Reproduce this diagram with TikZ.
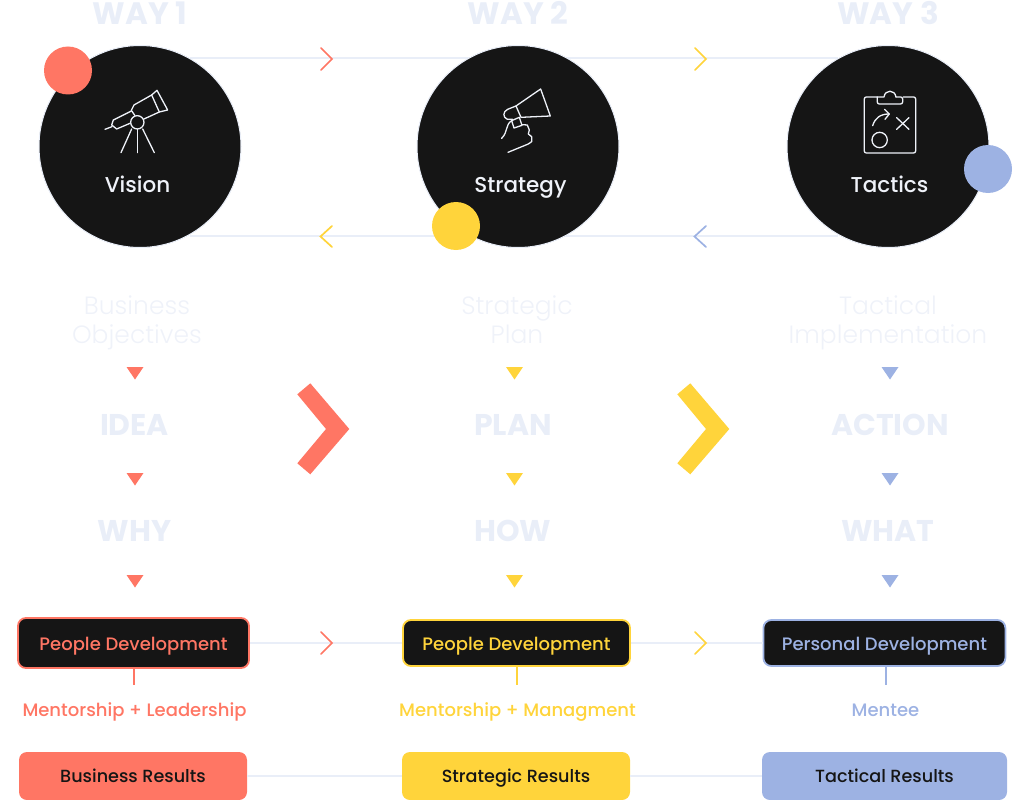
\documentclass[tikz,border=0pt]{standalone}
\usepackage{fontspec}
\setmainfont{Poppins}
\newfontfamily\med{Poppins Medium}
\newfontfamily\lite{Poppins Light}
\definecolor{coral}{HTML}{FF7664}
\definecolor{sun}{HTML}{FFD43B}
\definecolor{sky}{HTML}{9DB2E3}
\definecolor{pale}{HTML}{E9EEF8}
\definecolor{paler}{HTML}{EFF2F9}
\definecolor{ink}{HTML}{151515}
\newcommand{\fs}[1]{\fontsize{#1}{#1}\selectfont}
\newcommand{\goalline}{\rule[-8pt]{0pt}{28pt}}
\tikzset{
 x=1pt,y=-1pt,
 link/.style={draw=pale,line width=1.8pt},
 chev/.style={line width=1.7pt,line cap=round,line join=miter},
 disc/.style={circle,fill=ink,draw=pale,line width=1pt,minimum size=202pt,inner sep=0pt},
 dot/.style={circle,minimum size=48pt,inner sep=0pt},
 discname/.style={anchor=base,text=paler,inner sep=0pt,font=\med\fs{21.5}},
 way/.style={anchor=base,text=pale,inner sep=0pt,font=\fs{31}\bfseries},
 word/.style={anchor=base,text=pale,inner sep=0pt,font=\fs{30}\bfseries},
 goal/.style={text=paler,inner sep=0pt,font=\lite\fs{25},align=center,text width=260pt},
 devbox/.style={fill=ink,line width=1.8pt,rounded corners=8pt,inner sep=0pt,text height=18pt,text depth=4pt,font=\med\fs{18}},
 resbox/.style={rounded corners=8pt,inner sep=0pt,text=ink,text height=18pt,text depth=4.6pt,font=\med\fs{17.6}},
 sub/.style={anchor=base,inner sep=0pt,font=\med\fs{18}},
 icon/.style={draw=paler,line width=1.3pt,line cap=round,line join=round},
}
\begin{document}
\begin{tikzpicture}
\useasboundingbox (0,0) rectangle (1018,800);
\clip (0,0) rectangle (1018,800);
\coordinate (t1) at (190,58); \coordinate (t2) at (838,58);
\coordinate (b1) at (190,236); \coordinate (b2) at (838,236);
\draw[link] (t1) -- (t2);
\draw[link] (b1) -- (b2);
\node[disc] (vis) at (140,146.5) {};
\node[disc] (str) at (518,146.5) {};
\node[disc] (tac) at (888,146.5) {};
\node[dot,fill=coral] (d1) at (68,70.5) {};
\node[dot,fill=sun] (d2) at (456,226) {};
\node[dot,fill=sky] (d3) at (988,169) {};
% small chevrons top
\draw[chev,coral] (321,48) -- (332,59) -- (321,70);
\draw[chev,sun] (695,48) -- (706,59) -- (695,70);
\draw[chev,sun] (332,226) -- (320.5,236.5) -- (332,247);
\draw[chev,sky] (706,226) -- (694.5,236.5) -- (706,247);
% titles
\node[way] (w1) at (140,25) {WAY 1};
\node[way] (w2) at (518,25) {WAY 2};
\node[way] (w3) at (888,25) {WAY 3};
\node[discname] (n1) at (137.5,192) {Vision};
\node[discname] (n2) at (520.5,192) {Strategy};
\node[discname] (n3) at (889.5,192) {Tactics};
% telescope
\begin{scope}[shift={(30,0)},x=0.3333pt,y=-0.3333pt]
\draw[icon] (365,285) -- (381,271) -- (413,330) -- (388,336) -- cycle;
\draw[icon] (365,285) -- (312,315) -- (304,331) -- (315,347);
\draw[icon] (388,336) -- (342,357);
\draw[icon] (304,333) -- (250,360) -- (245,375) -- (260,387) -- (300,370);
\draw[icon] (225,388) -- (246,380);
\draw[icon] (322,367) circle[radius=20];
\draw[icon] (305,387) -- (273,458);
\draw[icon] (322,388) -- (322,458);
\draw[icon] (338,387) -- (373,458);
\end{scope}
% megaphone
\begin{scope}[shift={(410,30)},x=0.3333pt,y=-0.3333pt]
\draw[icon] (318,228) -- (392,177) -- (421,258) -- (333,262) -- cycle;
\draw[icon] (318,228) -- (293,238) .. controls (278,245) and (278,262) .. (292,268) -- (308,268);
\draw[icon] (305,272) -- (328,262) -- (336,286) -- (312,294) -- cycle;
\draw[icon] (305,272) .. controls (285,285) and (295,305) .. (275,325);
\draw[icon] (336,284) -- (352,285) -- (358,300) -- (355,312) -- (365,320) -- (365,335) -- (355,342) -- (294,367);
\end{scope}
% clipboard
\begin{scope}[shift={(690,30)},x=0.3333pt,y=-0.3333pt]
\draw[icon,rounded corners=2pt] (560,201) -- (523,201) -- (523,369) -- (677,369) -- (677,201) -- (640,201);
\draw[icon,rounded corners=2pt] (562,201) -- (562,222) -- (638,222) -- (638,201) -- (618,201);
\draw[icon] (562,201) -- (582,201) .. controls (585,178) and (615,178) .. (618,201);
\draw[icon] (548,287) .. controls (555,265) and (570,252) .. (597,252);
\draw[icon] (584,238) -- (598,252) -- (585,268);
\draw[icon] (620,263) -- (657,298);
\draw[icon] (657,263) -- (620,298);
\draw[icon] (569,330) circle[radius=23];
\end{scope}
% goals
\node[goal] (g1) at (137,323) {\baselineskip=28pt \goalline Business\\\goalline Objectives};
\node[goal] (g2) at (517,323) {\baselineskip=28pt \goalline Strategic\\\goalline Plan};
\node[goal] (g3) at (888,323) {\baselineskip=28pt \goalline Tactical\\\goalline Implementation};
\node[word] (i1) at (134.5,435) {IDEA};
\node[word] (i2) at (513,435) {PLAN};
\node[word] (i3) at (890,435) {ACTION};
\node[word] (j1) at (134.5,541) {WHY};
\node[word] (j2) at (513,541) {HOW};
\node[word] (j3) at (888,541) {WHAT};
% triangles
\foreach \cx/\col in {135/coral,514.5/sun,890/sky}{
 \foreach \ty in {367,473,575}{
  \fill[\col] (\cx-8.5,\ty) -- (\cx+8.5,\ty) -- (\cx,\ty+12.5) -- cycle;
 }
}
% big chevrons
\fill[coral] (297.3,394.3) -- (310.3,383.3) -- (349.3,429) -- (310.3,474.3) -- (297.3,463.3) -- (326,429) -- cycle;
\fill[sun] (677.3,394.3) -- (690.3,383.3) -- (729.3,429) -- (690.3,474.3) -- (677.3,463.3) -- (706,429) -- cycle;
% dev row
\node[devbox,draw=coral,text=coral,minimum width=231pt,minimum height=50pt] (p1) at (133.5,643) {People Development};
\node[devbox,draw=sun,text=sun,minimum width=227pt,minimum height=46pt] (p2) at (516.5,643) {People Development};
\node[devbox,draw=sky,text=sky,minimum width=242pt,minimum height=46pt] (p3) at (884.4,643) {Personal Development};
\draw[link] (p1) -- (p2);
\draw[link] (p2) -- (p3);
\draw[chev,coral] (321,632) -- (332,643) -- (321,654);
\draw[chev,sun] (695,632) -- (706,643) -- (695,654);
% subs
\node[sub,text=coral] (s1) at (134.5,716.5) {Mentorship + Leadership};
\node[sub,text=sun] (s2) at (517.5,716.5) {Mentorship + Managment};
\node[sub,text=sky] (s3) at (885.5,716.5) {Mentee};
\coordinate (e1) at (134,685); \coordinate (e2) at (517,685); \coordinate (e3) at (886,685);
\draw[coral,line width=1.6pt] (p1.south -| e1) -- (e1);
\draw[sun,line width=1.6pt] (p2.south -| e2) -- (e2);
\draw[sky,line width=1.6pt] (p3.south -| e3) -- (e3);
% results
\node[resbox,fill=coral,minimum width=228pt,minimum height=48pt] (r1) at (133,776) {Business Results};
\node[resbox,fill=sun,minimum width=228pt,minimum height=48pt] (r2) at (516,776) {Strategic Results};
\node[resbox,fill=sky,minimum width=245pt,minimum height=48pt] (r3) at (884.5,776) {Tactical Results};
\draw[link] (r1) -- (r2);
\draw[link] (r2) -- (r3);
\end{tikzpicture}
\end{document}
